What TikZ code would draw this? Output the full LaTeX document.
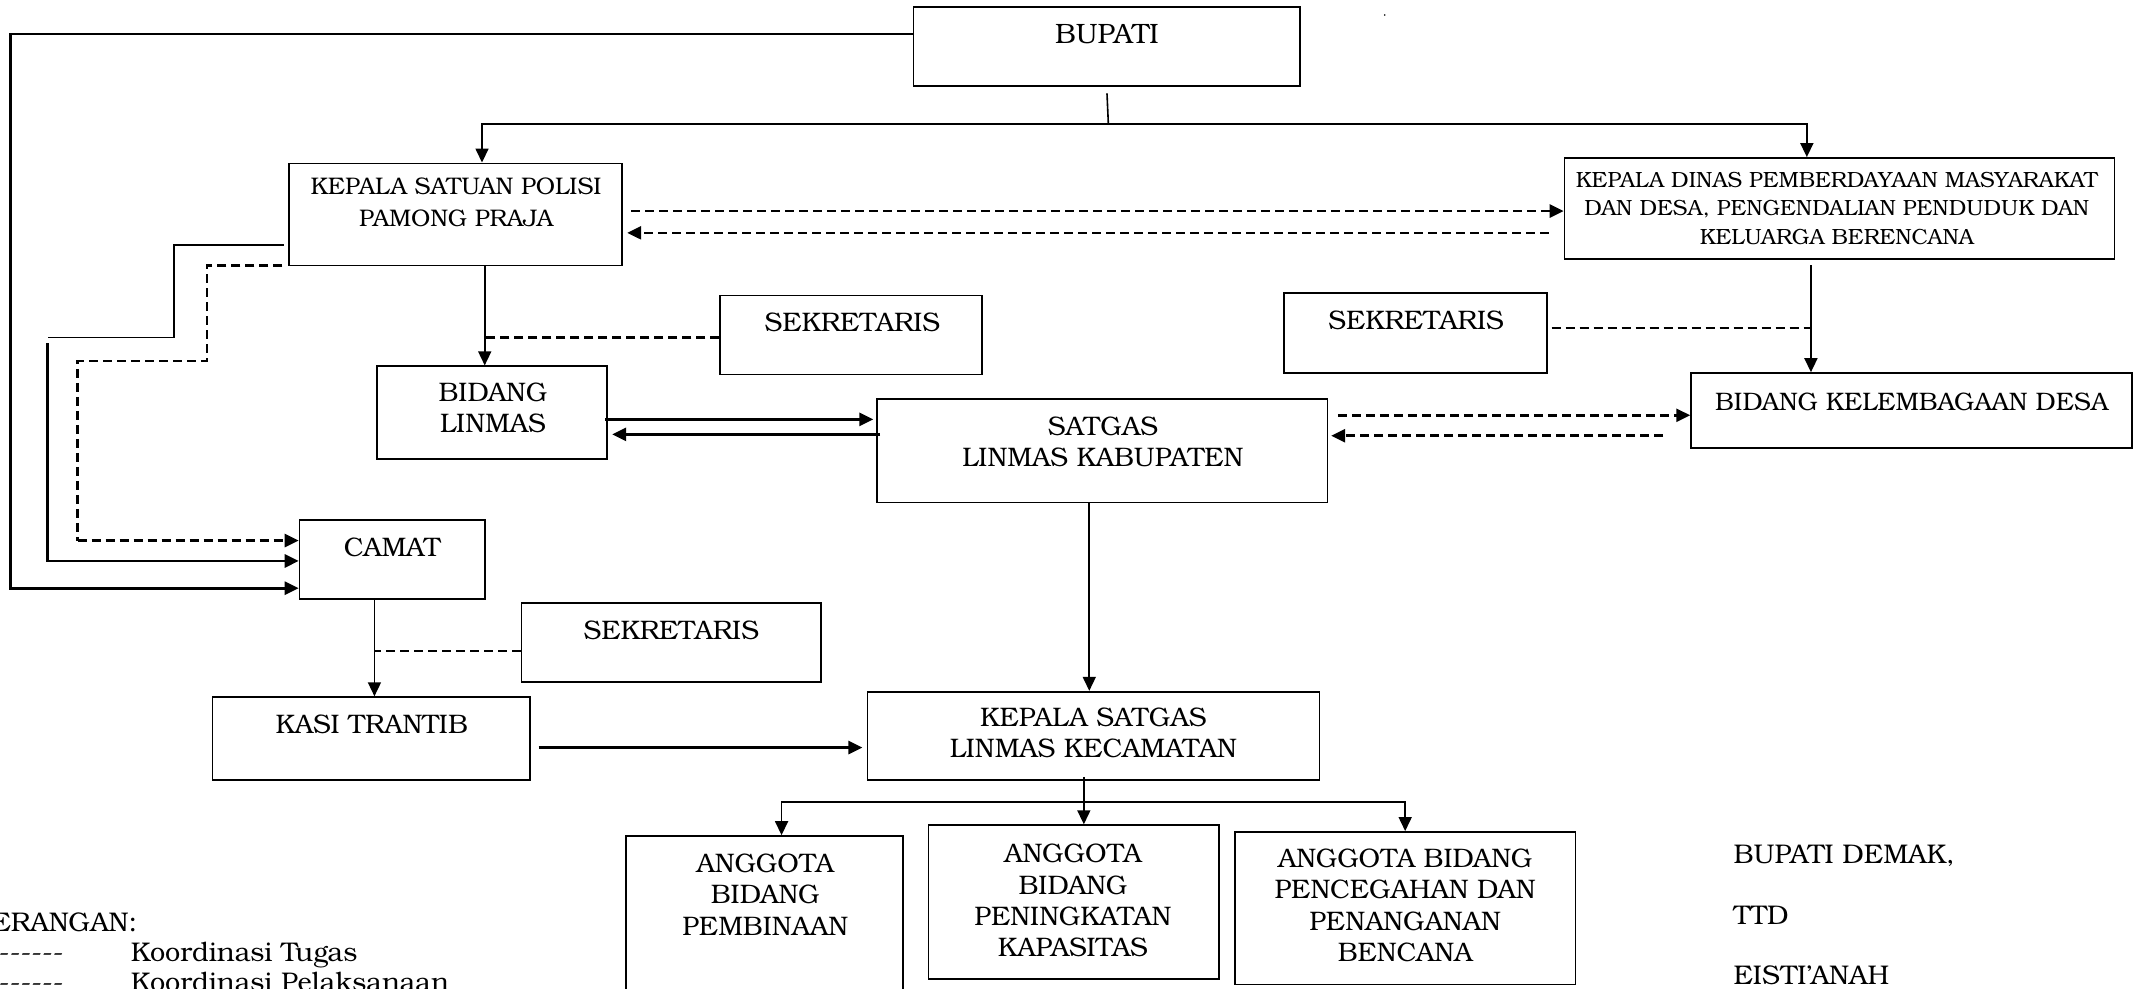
\documentclass[tikz,border=0pt]{standalone}
\usepackage{fontspec}
\setmainfont{TeX Gyre Bonum}
\usetikzlibrary{arrows.meta,calc,fit}
\begin{document}
\begin{tikzpicture}[x=1.3616pt,y=-1.3616pt,
  box/.style={draw,line width=1.7pt,inner sep=0pt},
  txt/.style={align=center,inner sep=0pt,font=\fontsize{26.8}{31.3}\selectfont},
  smalltxt/.style={align=center,inner sep=0pt,font=\fontsize{22}{28.6}\selectfont},
  plain/.style={anchor=base west,inner sep=0pt,font=\fontsize{27}{30}\selectfont},
  conn/.style={line width=1.6pt},
  heavy/.style={line width=2.8pt},
  tip/.style={-{Triangle[length=14pt,width=13pt]}},
  dashline/.style={line width=2.6pt,dash pattern=on 9pt off 5pt},
  dashtip/.style={dash pattern=on 9pt off 5pt,line width=2.6pt,-{Triangle[length=14pt,width=13pt]}}]
\useasboundingbox (0,0) rectangle (1568,726);
\clip (0,0) rectangle (1568,726);

% boxes
\node[box,fit={(671,5)(955,63)}] (bupati) {};
\node[box,fit={(212,120)(457,195)}] (kspp) {};
\node[box,fit={(1149,116)(1553,190)}] (dinas) {};
\node[box,fit={(529,217)(721,275)}] (sek1) {};
\node[box,fit={(277,269)(446,337)}] (linmas) {};
\node[box,fit={(644,293)(975,369)}] (satgas) {};
\node[box,fit={(943,215)(1136,274)}] (sek2) {};
\node[box,fit={(1242,274)(1566,329)}] (bkd) {};
\node[box,fit={(220,382)(356,440)}] (camat) {};
\node[box,fit={(383,443)(603,501)}] (sek3) {};
\node[box,fit={(156,512)(389,573)}] (kasi) {};
\node[box,fit={(637,508)(969,573)}] (kslk) {};
\node[box,fit={(460,614)(663,745)}] (ang1) {};
\node[box,fit={(682,606)(895,719)}] (ang2) {};
\node[box,fit={(907,611)(1157,723)}] (ang3) {};

% texts
\node[txt,font=\fontsize{28}{31.3}\selectfont] (tbupati) at (813,25) {BUPATI};
\node[txt,font=\fontsize{24}{31.3}\selectfont] (tkspp) at (335,148.5) {KEPALA SATUAN POLISI\\PAMONG PRAJA};
\node[smalltxt] (tdinas) at (1349,153) {KEPALA DINAS PEMBERDAYAAN MASYARAKAT\\DAN DESA, PENGENDALIAN PENDUDUK DAN\\KELUARGA BERENCANA};
\node[txt] (tsek1) at (626,237) {SEKRETARIS};
\node[txt] (tlinmas) at (362,299.5) {BIDANG\\LINMAS};
\node[txt] (tsatgas) at (810,324.5) {SATGAS\\LINMAS KABUPATEN};
\node[txt] (tsek2) at (1040,235) {SEKRETARIS};
\node[txt,font=\fontsize{25.3}{31.3}\selectfont] (tbkd) at (1404,295) {BIDANG KELEMBAGAAN DESA};
\node[txt] (tcamat) at (288,402) {CAMAT};
\node[txt] (tsek3) at (493,463) {SEKRETARIS};
\node[txt] (tkasi) at (273,532) {KASI TRANTIB};
\node[txt] (tkslk) at (803,538) {KEPALA SATGAS\\LINMAS KECAMATAN};
\node[txt] (tang1) at (562,657) {ANGGOTA\\BIDANG\\PEMBINAAN};
\node[txt] (tang2) at (788,661.5) {ANGGOTA\\BIDANG\\PENINGKATAN\\KAPASITAS};
\node[txt] (tang3) at (1032,665) {ANGGOTA BIDANG\\PENCEGAHAN DAN\\PENANGANAN\\BENCANA};

% top distribution
\coordinate (hub) at (814,91);
\draw[conn] ($(bupati.south)+(0,5)$) -- (hub);
\draw[conn,tip] (hub) -| (354,0 |- kspp.north);
\draw[conn,tip] (hub) -| (1327,0 |- dinas.north);

% kspp <-> dinas
\draw[dashtip] ($(kspp.east |- 0,155)+(6,0)$) -- (dinas.west |- 0,155);
\draw[dashtip] ($(dinas.west |- 0,171)+(-11,0)$) -- ($(kspp.east |- 0,171)+(3,0)$);

% kspp -> linmas, sekretaris
\draw[conn,tip] (356,0 |- kspp.south) -- (356,0 |- linmas.north);
\draw[dashline] (sek1.west |- 0,248) -- (356,248);

% linmas <-> satgas
\draw[heavy,tip] ($(linmas.east |- 0,308)+(-2,0)$) -- ($(satgas.west |- 0,308)+(-2,0)$);
\draw[heavy,tip] ($(satgas.west |- 0,319)+(3,0)$) -- ($(linmas.east |- 0,319)+(3,0)$);

% dinas -> bkd, sekretaris
\draw[conn,tip] ($(1330,0 |- dinas.south)+(0,4)$) -- (1330,0 |- bkd.north);
\draw[dashline] ($(sek2.east |- 0,241)+(3,0)$) -- (1330,241);

% satgas <-> bkd
\draw[dashtip] ($(satgas.east |- 0,305)+(7,0)$) -- (bkd.west |- 0,305);
\draw[dashtip] ($(bkd.west |- 0,320)+(-20,0)$) -- ($(satgas.east |- 0,320)+(2,0)$);

% satgas -> kslk
\draw[conn,tip] (800,0 |- satgas.south) -- (800,0 |- kslk.north);

% left lines to camat
\draw[heavy,tip] (bupati.west |- 0,25) -| (8,432) -- (camat.west |- 0,432);
\draw[conn] ($(kspp.west |- 0,180)+(-3,0)$) -| (128,248) -- (35,248);
\draw[heavy,tip] (35,252) -- (35,412) -- (camat.west |- 0,412);
\draw[dashline] ($(kspp.west |- 0,195)+(-4,0)$) -| (152,265) -| (57,397);
\draw[dashtip] (57,397) -- (camat.west |- 0,397);

% camat -> kasi, sekretaris
\draw[conn,tip] (275,0 |- camat.south) -- (275,0 |- kasi.north);
\draw[dashline] (sek3.west |- 0,478) -- (275,478);

% kasi -> kslk
\draw[heavy,tip] ($(kasi.east |- 0,549)+(6,0)$) -- ($(kslk.west |- 0,549)+(-3,0)$);

% kslk -> anggota
\coordinate (hub2) at (796,589);
\draw[conn,tip] ($(796,0 |- kslk.south)+(0,-3)$) -- (796,0 |- ang2.north);
\draw[conn,tip] (hub2) -| (574,0 |- ang1.north);
\draw[conn,tip] (hub2) -| (1032,0 |- ang3.north);

% legend
\node[plain,anchor=base east] (ket) at (101,684) {KETERANGAN:};
\node[plain,anchor=base east] (l1) at (47,706) {-{}-{}-{}-{}-{}-{}-{}-{}-{}-{}-};
\node[plain] (k1) at (96,706) {Koordinasi Tugas};
\node[plain,anchor=base east] (l2) at (47,728) {-{}-{}-{}-{}-{}-{}-{}-{}-{}-{}-};
\node[plain] (k2) at (96,728) {Koordinasi Pelaksanaan};

% signature
\node[plain] (sig1) at (1273,634) {BUPATI DEMAK,};
\node[plain] (sig2) at (1273,679) {TTD};
\node[plain] (sig3) at (1273,723) {EISTI’ANAH};

\fill (1017,11) circle (0.7);
\end{tikzpicture}
\end{document}
